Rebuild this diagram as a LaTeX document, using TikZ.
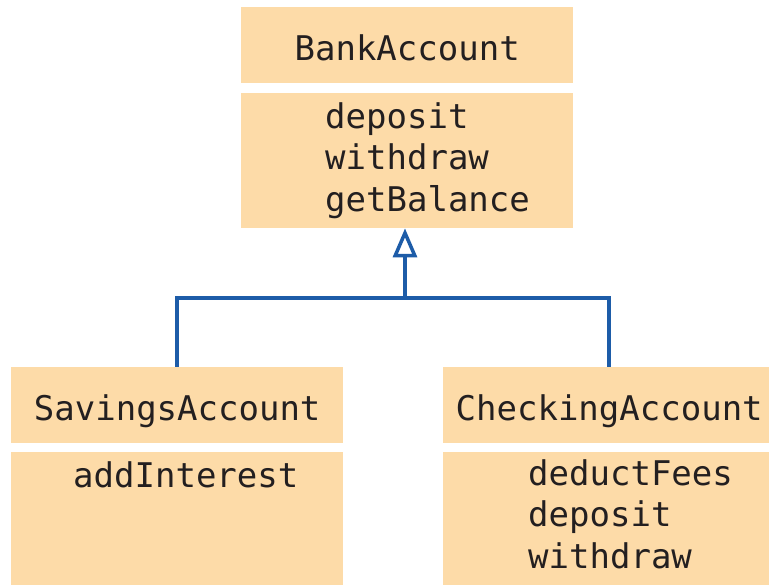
\documentclass[tikz,border=0pt]{standalone}
\usepackage{fontspec}
\setmonofont{DejaVu Sans Mono}
\usepackage{tikz}
\usetikzlibrary{arrows.meta}
\definecolor{boxfill}{HTML}{FDDBA8}
\definecolor{linkblue}{HTML}{1D5CA8}
\definecolor{ink}{HTML}{231F20}
\tikzset{
  namebox/.style={fill=boxfill, minimum width=332pt, minimum height=76pt, inner sep=0pt,
    anchor=north west, text=ink, font=\fontsize{34pt}{41.5pt}\selectfont\ttfamily,
    text height=30pt, text depth=0pt},
  opsbox/.style={fill=boxfill, minimum width=332pt, minimum height=135pt, inner sep=0pt,
    anchor=north west},
  ops/.style={text=ink, font=\fontsize{34pt}{41.5pt}\selectfont\ttfamily, align=left,
    inner sep=0pt, anchor=north west},
  link/.style={draw=linkblue, line width=3.5pt, line join=miter},
  isa/.style={-{Triangle[length=29pt, width=24pt, fill=white]}},
}
\begin{document}
\begin{tikzpicture}[x=1pt, y=-1pt]
  \useasboundingbox (0,0) rectangle (769,585);
  % superclass
  \node[namebox] (bank) at (241,7) {BankAccount};
  \node[opsbox] (bankops) at (241,93) {};
  \node[ops] (banklist) at (325,102) {deposit\\withdraw\\getBalance};
  % subclasses
  \node[namebox] (sav) at (11,367) {SavingsAccount};
  \node[opsbox] (savops) at (11,452) {};
  \node[ops] (savlist) at (73,461) {addInterest};
  \node[namebox] (chk) at (443,367) {CheckingAccount};
  \node[opsbox] (chkops) at (443,452) {};
  \node[ops] (chklist) at (528,459) {deductFees\\deposit\\withdraw};
  % inheritance
  \coordinate (join) at (405,298);
  \draw[link] (sav.north) |- (join) -| (chk.north);
  \draw[link, isa] (join) -- (join |- bankops.south);
\end{tikzpicture}
\end{document}
